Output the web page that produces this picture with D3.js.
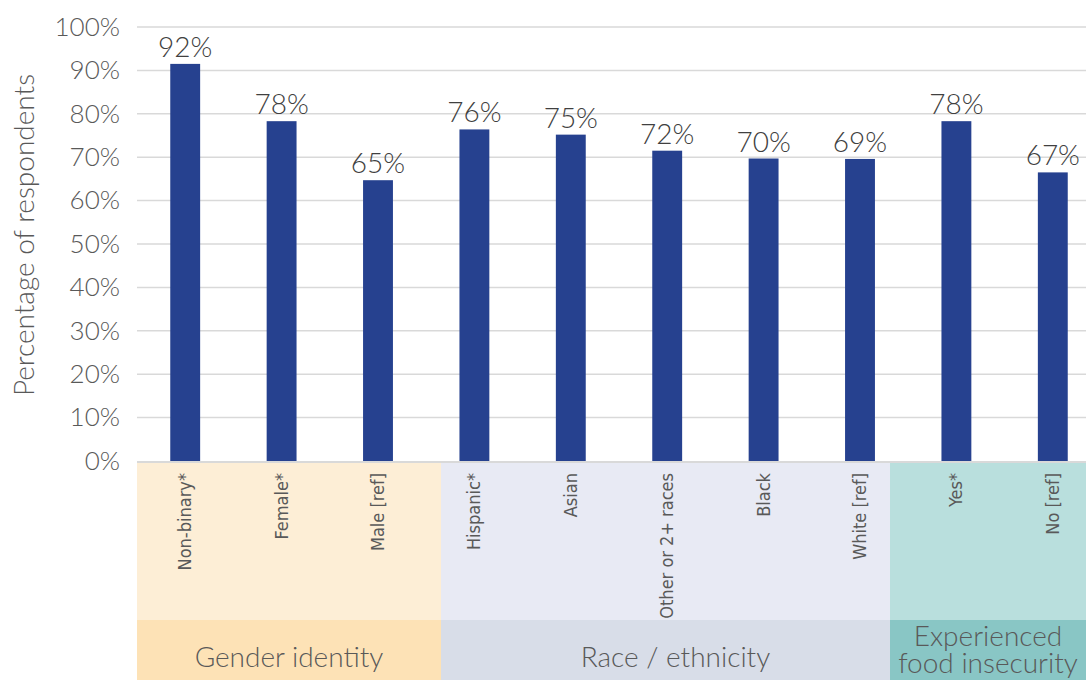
<!DOCTYPE html>
<html>
<head>
<meta charset="utf-8">
<script src="https://cdn.jsdelivr.net/npm/d3@7"></script>
<style>
  body { margin: 0; background: #fff; }
  svg { display: block; font-family: Lato, "Open Sans", sans-serif; font-weight: 300; }
</style>
</head>
<body>
<svg id="chart" width="1086" height="680"></svg>
<script>
'use strict'

// data
var categories = ['Non-binary*', 'Female*', 'Male [ref]', 'Hispanic*', 'Asian',
  'Other or 2+ races', 'Black', 'White [ref]', 'Yes*', 'No [ref]']
var values = [91.5, 78.3, 64.7, 76.4, 75.2, 71.5, 69.7, 69.6, 78.3, 66.5]
var valueLabels = ['92%', '78%', '65%', '76%', '75%', '72%', '70%', '69%', '78%', '67%']
var yTicks = [0, 10, 20, 30, 40, 50, 60, 70, 80, 90, 100]
var groupNames = [['Gender identity'], ['Race / ethnicity'], ['Experienced', 'food insecurity']]
var groupSizes = [3, 5, 2]

var width = 1086
var height = 680
var plotLeft = 137
var svg = d3.select('#chart')

// group box edges (layout), light/dark fills per group
var groupEdges = [plotLeft, 441, 890, width]
var lightFill = ['#fdeed6', '#e8eaf4', '#b9dfdd']
var darkFill = ['#fde2b6', '#d8dde8', '#89c6c5']

var x = d3.scaleBand()
  .domain(categories)
  .range([plotLeft, plotLeft + 964])
  .paddingInner(0.69)
  .paddingOuter(0.345)

var y = d3.scaleLinear()
  .domain([0, 100])
  .range([461, 27])

// Group boxes under the axis
var groups = svg.append('g').attr('class', 'groups')
groupSizes.forEach(function (n, i) {
  var x0 = groupEdges[i]
  var x1 = groupEdges[i + 1]
  var cx = (x0 + x1) / 2 + (i === 1 ? 10 : 0)
  groups.append('rect')
    .attr('x', x0).attr('y', 463)
    .attr('width', x1 - x0).attr('height', 157)
    .attr('fill', lightFill[i])
  groups.append('rect')
    .attr('x', x0).attr('y', 620)
    .attr('width', x1 - x0).attr('height', 60)
    .attr('fill', darkFill[i])
  var lines = groupNames[i]
  var t = groups.append('text')
    .attr('x', cx)
    .attr('text-anchor', 'middle')
    .attr('font-size', 28)
    .attr('fill', '#595959')
  lines.forEach(function (line, j) {
    t.append('tspan')
      .attr('x', cx)
      .attr('y', lines.length === 1 ? 667 : 646 + j * 27)
      .text(line)
  })
})

// Gridlines
svg.append('g')
  .attr('class', 'grid')
  .selectAll('line')
  .data(yTicks.slice(1))
  .enter().append('line')
    .attr('x1', plotLeft)
    .attr('x2', width)
    .attr('y1', function (d) { return y(d) })
    .attr('y2', function (d) { return y(d) })
    .attr('stroke', '#d9d9d9')
    .attr('stroke-width', 1.5)

// Axis baseline
svg.append('line')
  .attr('x1', plotLeft).attr('x2', width)
  .attr('y1', 462).attr('y2', 462)
  .attr('stroke', '#d9d9d9')
  .attr('stroke-width', 2)

// Y axis labels
var yAxis = d3.axisLeft(y)
  .tickValues(yTicks)
  .tickSize(0)
  .tickPadding(0)
  .tickFormat(function (d) { return d + '%' })

svg.append('g')
  .attr('transform', 'translate(120,0)')
  .call(yAxis)
  .call(function (g) { g.select('.domain').remove() })
  .selectAll('text')
    .attr('font-family', 'Lato, sans-serif')
    .attr('font-size', 26)
    .attr('fill', '#595959')

// Y title
svg.append('text')
  .attr('transform', 'translate(34,235) rotate(-90)')
  .attr('text-anchor', 'middle')
  .attr('font-size', 28)
  .attr('fill', '#595959')
  .text('Percentage of respondents')

// Bars
svg.append('g')
  .attr('class', 'bars')
  .selectAll('rect')
  .data(values)
  .enter().append('rect')
    .attr('x', function (d, i) { return x(categories[i]) })
    .attr('y', function (d) { return y(d) })
    .attr('width', x.bandwidth())
    .attr('height', function (d) { return y(0) - y(d) })
    .attr('fill', '#26418f')

// Value labels
svg.append('g')
  .attr('class', 'labels')
  .selectAll('text')
  .data(values)
  .enter().append('text')
    .attr('x', function (d, i) { return x(categories[i]) + x.bandwidth() / 2 })
    .attr('y', function (d) { return y(d) - 7 })
    .attr('text-anchor', 'middle')
    .attr('font-size', 28)
    .attr('fill', '#404040')
    .text(function (d, i) { return valueLabels[i] })

// Category labels (rotated)
svg.append('g')
  .attr('class', 'cats')
  .selectAll('text')
  .data(categories)
  .enter().append('text')
    .attr('transform', function (d) {
      return 'translate(' + (x(d) + x.bandwidth() / 2 + 6) + ',473) rotate(-90)'
    })
    .attr('text-anchor', 'end')
    .attr('font-family', '"Liberation Sans Narrow", "DejaVu Sans Condensed", sans-serif')
    .attr('font-size', 18)
    .attr('fill', '#595959')
    .text(function (d) { return d })
</script>
</body>
</html>
